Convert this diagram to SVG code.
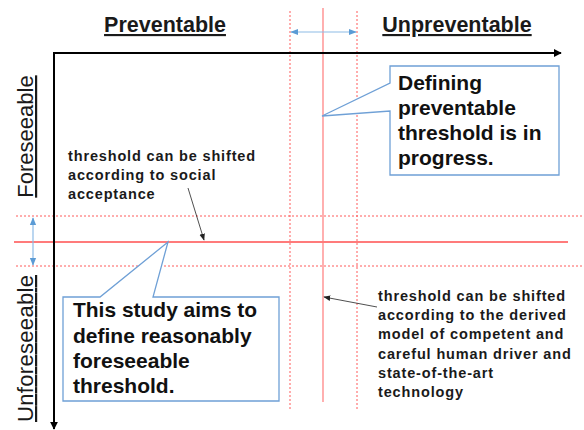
<svg xmlns="http://www.w3.org/2000/svg" width="584" height="430" viewBox="0 0 584 430">
<style>
.hdr{font-family:"Liberation Sans",Arial,sans-serif;font-weight:bold;font-size:21.5px;fill:#1a1a1a;text-decoration:underline}
.vl{font-family:"Liberation Sans",Arial,sans-serif;font-size:22px;fill:#1a1a1a}
.big{font-family:"Liberation Sans",Arial,sans-serif;font-weight:bold;font-size:21px;fill:#111}
.sm{font-family:"Liberation Sans",Arial,sans-serif;font-weight:bold;font-size:14.5px;letter-spacing:0.85px;fill:#1a1a1a}
.dash{stroke:#ff5a5a;stroke-width:1;stroke-dasharray:2,2;fill:none}
.solid{stroke:#ff7b7b;fill:none}
.callout{fill:#fff;stroke:#6fa0d6;stroke-width:1.3}
.blue{stroke:#8dbbe6;stroke-width:1.2;fill:none}
</style>
<defs>
<marker id="ah" viewBox="0 0 10 10" refX="9" refY="5" markerWidth="8" markerHeight="8" markerUnits="userSpaceOnUse" orient="auto">
<path d="M0,0 L10,5 L0,10 Z" fill="#000"/>
</marker>
<marker id="ahs" viewBox="0 0 10 10" refX="9" refY="5" markerWidth="7" markerHeight="7" markerUnits="userSpaceOnUse" orient="auto">
<path d="M0,1 L10,5 L0,9 Z" fill="#222"/>
</marker>
<marker id="bh" viewBox="0 0 10 10" refX="9" refY="5" markerWidth="8" markerHeight="8" markerUnits="userSpaceOnUse" orient="auto-start-reverse">
<path d="M0,1 L10,5 L0,9 Z" fill="#5b9bd5"/>
</marker>
</defs>

<g id="threshold-lines">
<line class="dash" x1="16" y1="216" x2="584" y2="216"/>
<line class="dash" x1="16" y1="266" x2="584" y2="266"/>
<line class="solid" x1="14" y1="242" x2="568" y2="242" stroke-width="1.8" stroke="#f7a0a0"/>
<line class="dash" x1="290" y1="11" x2="290" y2="410"/>
<line class="dash" x1="357" y1="11" x2="357" y2="410"/>
<line class="solid" x1="323" y1="8" x2="323" y2="402" stroke-width="1.2"/>
</g>

<g id="axes">
<line x1="53" y1="53" x2="561" y2="53" stroke="#000" stroke-width="2" marker-end="url(#ah)"/>
<line x1="54" y1="52" x2="54" y2="429" stroke="#000" stroke-width="2" marker-end="url(#ah)"/>
</g>

<g id="range-arrows">
<line class="blue" x1="291" y1="32" x2="356" y2="32" marker-start="url(#bh)" marker-end="url(#bh)"/>
<line class="blue" x1="33" y1="218" x2="33" y2="265" marker-start="url(#bh)" marker-end="url(#bh)"/>
</g>

<g id="label-preventable"><text class="hdr" x="165" y="32" text-anchor="middle">Preventable</text></g>
<g id="label-unpreventable"><text class="hdr" x="457" y="32" text-anchor="middle">Unpreventable</text></g>
<g id="label-foreseeable"><text class="vl" transform="translate(33,136.5) rotate(-90)" text-anchor="middle" text-decoration="underline">Foreseeable</text></g>
<g id="label-unforeseeable"><text class="vl" transform="translate(33,348.5) rotate(-90)" text-anchor="middle" text-decoration="underline" textLength="147">Unforeseeable</text></g>

<g id="callout-preventable">
<path class="callout" d="M390,66 H559 V175 H390 V111 L322,116 L390,83 Z"/>
<text class="big" x="398" y="90">Defining</text>
<text class="big" x="398" y="115">preventable</text>
<text class="big" x="398" y="140">threshold is in</text>
<text class="big" x="398" y="165">progress.</text>
</g>

<g id="callout-foreseeable">
<path class="callout" d="M63,297 H100 L168,242 L153,297 H279 V401 H63 Z"/>
<text class="big" x="73" y="317" textLength="184" lengthAdjust="spacingAndGlyphs">This study aims to</text>
<text class="big" x="73" y="343">define reasonably</text>
<text class="big" x="73" y="368">foreseeable</text>
<text class="big" x="73" y="393">threshold.</text>
</g>

<g id="note-social">
<text class="sm" x="68" y="161">threshold can be shifted</text>
<text class="sm" x="68" y="180">according to social</text>
<text class="sm" x="68" y="199">acceptance</text>
</g>

<g id="note-driver">
<text class="sm" x="378" y="301">threshold can be shifted</text>
<text class="sm" x="378" y="320">according to the derived</text>
<text class="sm" x="378" y="339">model of competent and</text>
<text class="sm" x="378" y="359">careful human driver and</text>
<text class="sm" x="378" y="378">state-of-the-art</text>
<text class="sm" x="378" y="397">technology</text>
</g>

<g id="connectors">
<line x1="188" y1="188" x2="204" y2="240" stroke="#222" stroke-width="0.8" marker-end="url(#ahs)"/>
<line x1="377" y1="307" x2="324" y2="297" stroke="#222" stroke-width="0.8" marker-end="url(#ahs)"/>
</g>
</svg>
